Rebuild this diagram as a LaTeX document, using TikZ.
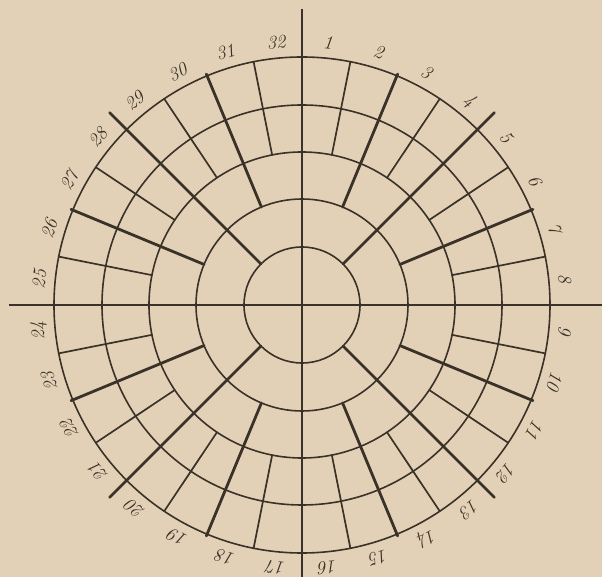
\documentclass[tikz,border=0pt]{standalone}
\definecolor{paper}{RGB}{226,209,182}
\definecolor{inkc}{RGB}{58,50,40}
\begin{document}
\begin{tikzpicture}[x=1pt,y=1pt,
  heavyline/.style={draw=inkc,line width=2.8pt,line cap=round},
  thinline/.style={draw=inkc,line width=1.7pt,line cap=round},
  ring/.style={draw=inkc,line width=1.6pt},
  lab/.style={text=inkc,font=\fontsize{19}{19}\selectfont\itshape,inner sep=0pt}]
\fill[paper] (-302,-272) rectangle (300,305);
\useasboundingbox (-302,-272) rectangle (300,305);
% concentric circles
\foreach \r in {58,106,153,200,248}
  \draw[ring] (0,0) circle (\r);
% axes
\draw[heavyline,line cap=butt] (0,296) -- (0,-272);
\draw[heavyline,line cap=butt] (-293,0) -- (300,0);
% 45 degree diagonals
\foreach \t in {45,135,225,315}
  \draw[heavyline] ({90-\t}:58) -- ({90-\t}:272);
% 22.5 degree lines
\foreach \t in {22.5,67.5,112.5,157.5,202.5,247.5,292.5,337.5}
  \draw[heavyline] ({90-\t}:106) -- ({90-\t}:250);
% 11.25 degree lines
\foreach \t in {11.25,33.75,56.25,78.75,101.25,123.75,146.25,168.75,191.25,213.75,236.25,258.75,281.25,303.75,326.25,348.75}
  \draw[thinline] ({90-\t}:153) -- ({90-\t}:248);
% labels
\foreach \k [evaluate=\k as \a using (\k-0.5)*11.25] in {1,...,32}
  \node[lab,rotate=-\a] (l\k) at ({90-\a}:264) {\k};
\end{tikzpicture}
\end{document}
